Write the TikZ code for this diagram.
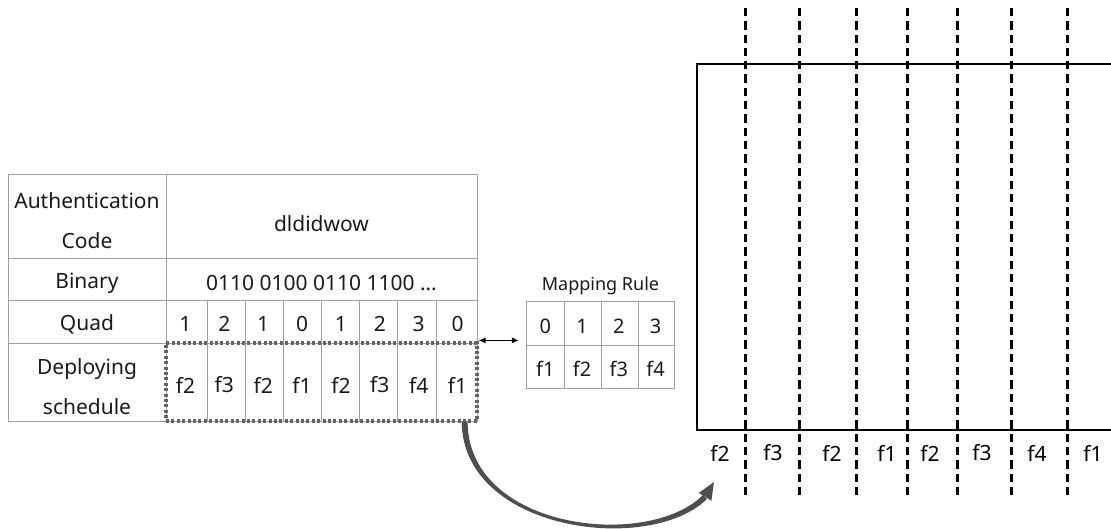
\documentclass[tikz,border=0pt]{standalone}
\usepackage{fontspec}
\setmainfont{Noto Sans}
\usetikzlibrary{arrows.meta}
\definecolor{gridgray}{HTML}{A0A0A0}
\definecolor{txt}{HTML}{1A1A1A}
\definecolor{dotgray}{HTML}{646464}
\definecolor{arrgray}{HTML}{4E4E4E}
\begin{document}
\begin{tikzpicture}[x=1pt,y=-1pt,
  gridline/.style={draw=gridgray,line width=1pt},
  lbl/.style={text=txt,inner sep=0pt,align=center,font=\fontsize{21}{40}\selectfont},
  maptitlefont/.style={text=txt,inner sep=0pt,font=\fontsize{18}{22}\selectfont},
  maplbl/.style={text=txt,inner sep=0pt,font=\fontsize{20}{24}\selectfont},
  slotlbl/.style={text=black,inner sep=0pt,font=\fontsize{21}{24}\selectfont},
  schedbox/.style={draw=dotgray,line width=3.2pt,dash pattern=on 3pt off 2.4pt,
    inner sep=0pt,minimum width=311pt,minimum height=78pt},
  slotline/.style={draw=black,line width=3pt,dash pattern=on 8.3pt off 5pt},
  frameline/.style={draw=black,line width=1.4pt},
  link/.style={draw=black,line width=1pt,{Latex[length=7pt,width=6pt]}-{Latex[length=7pt,width=6pt]}},
  bigarrow/.style={fill=arrgray,draw=none}]
\useasboundingbox (0,0) rectangle (1111,529);

% ---- left table: authentication code -> deploying schedule ----
\draw[gridline] (8,175) rectangle (477,421);
\foreach \y in {259,301,343} \draw[gridline] (8,\y) -- (477,\y);
\draw[gridline] (166,175) -- (166,421);
\foreach \x in {207,245,283,321,359,397,436} \draw[gridline] (\x,301) -- (\x,421);

\node[lbl] (hauth) at (87,221) {Authentication\\Code};
\node[lbl] (vauth) at (321.5,224) {dldidwow};
\node[lbl] (hbin)  at (87,283) {Binary};
\node[lbl] (vbin)  at (321.5,283) {0110 0100 0110 1100 …};
\node[lbl] (hquad) at (87,324) {Quad};
\node[lbl] (hdep)  at (87,387) {Deploying\\schedule};

\foreach \v [count=\i] in {1,2,1,0,1,2,3,0}
  \node[lbl] (q\i) at ({166+38.875*(\i-0.5)},324) {\v};
\foreach \v [count=\i] in {f2,f3,f2,f1,f2,f3,f4,f1}
  \node[lbl] (d\i) at ({166+38.875*(\i-0.5)},385) {\v};

% dotted frame round the schedule cells
\node[schedbox] (sched) at (321.5,382) {};

% ---- mapping rule ----
\node[maptitlefont] (maptitle) at (600.5,286) {Mapping Rule};
\node[inner sep=0pt,minimum width=147pt,minimum height=86pt] (maptab) at (600.5,345) {};
\draw[gridline] (maptab.north west) rectangle (maptab.south east);
\draw[gridline] (maptab.west) -- (maptab.east);
\foreach \x in {564,601,638} \draw[gridline] (\x,302) -- (\x,388);
\foreach \v [count=\i] in {0,1,2,3}
  \node[maplbl] (mk\i) at ({527+36.75*(\i-0.5)},326) {\v};
\foreach \v [count=\i] in {f1,f2,f3,f4}
  \node[maplbl] (mv\i) at ({527+36.75*(\i-0.5)},369) {\v};

\draw[link] ([yshift=1pt]sched.north east) -- ([yshift=1pt]sched.north east -| maptab.west)
  [shorten >=8pt];

% ---- deployment timeline ----
\draw[frameline] (1111,64) -- (697,64) -- (697,430) -- (1111,430);
\foreach \x in {745,799,856,907,957,1011,1067}
  \draw[slotline] (\x,8) -- (\x,498);
\foreach \v/\x [count=\i] in {f2/720,f3/773,f2/832,f1/887,f2/930,f3/982,f4/1037,f1/1093}
  \node[slotlbl] (s\i) at (\x,453) {\v};

% ---- schedule carried over to the timeline: tapered shaft and head ----
\coordinate (tip) at (714,482);
\coordinate (shaftL) at ([xshift=-17pt,yshift=1pt]sched.south east);
\coordinate (shaftR) at ([xshift=-11pt,yshift=1pt]sched.south east);
\fill[bigarrow] (shaftL) .. controls (463,532) and (650,555) .. (707,499)
  -- (703,495) .. controls (648,550) and (468,530) .. (shaftR) -- cycle;
\fill[bigarrow] (tip) -- (711.4,500.9) -- (705,496.5) -- (698.6,493.1) -- cycle;
\end{tikzpicture}
\end{document}
